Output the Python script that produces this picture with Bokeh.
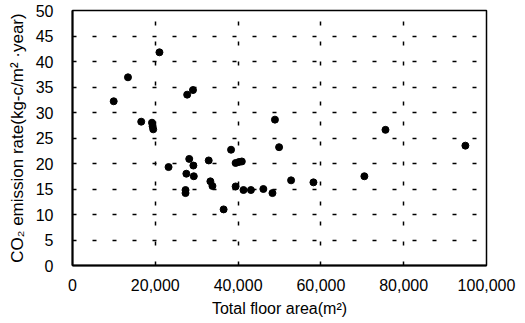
from bokeh.plotting import figure
from bokeh.models import NumeralTickFormatter, Range1d, FixedTicker, ColumnDataSource
from bokeh.embed import file_html
from bokeh.resources import INLINE

floor_area = [9950, 13400, 16600, 19200, 19350, 19500, 21000, 23200, 27700, 29100,
              28200, 29200, 27500, 29300, 27300, 27300, 32900, 33300, 33800, 36500,
              38300, 39400, 40200, 40900, 39400, 41300, 43100, 46100, 48300, 48900,
              49900, 52800, 58200, 70500, 75600, 94900]
emission = [32.2, 36.9, 28.2, 28.0, 27.3, 26.7, 41.8, 19.3, 33.5, 34.4,
            20.9, 19.6, 18.0, 17.5, 14.8, 14.2, 20.6, 16.5, 15.6, 11.0,
            22.7, 20.1, 20.3, 20.4, 15.5, 14.8, 14.8, 15.0, 14.2, 28.6,
            23.2, 16.7, 16.3, 17.5, 26.6, 23.5]

x_ticks = [0, 20000, 40000, 60000, 80000, 100000]
y_ticks = [0, 5, 10, 15, 20, 25, 30, 35, 40, 45, 50]

FONT = "Liberation Sans"

p = figure(width=525, height=323, output_backend="svg", toolbar_location=None,
           x_range=Range1d(0, 100000), y_range=Range1d(0, 50),
           min_border_left=72, min_border_right=39, min_border_top=10, min_border_bottom=58)

src = ColumnDataSource(dict(x=floor_area, y=emission))
p.scatter("x", "y", source=src, size=7, color="black")

p.xaxis.ticker = FixedTicker(ticks=x_ticks)
p.yaxis.ticker = FixedTicker(ticks=y_ticks)
p.xaxis.formatter = NumeralTickFormatter(format="0,0")

for ax in (p.xaxis, p.yaxis):
    ax.major_tick_out = 0
    ax.major_tick_in = 0
    ax.minor_tick_out = 0
    ax.minor_tick_in = 0
    ax.axis_line_color = "black"
    ax.axis_line_width = 2
    ax.major_label_text_font = FONT
    ax.major_label_text_font_size = "16px"
    ax.major_label_text_color = "black"
    ax.axis_label_text_font = FONT
    ax.axis_label_text_font_style = "normal"
    ax.axis_label_text_color = "black"

p.xaxis.axis_label = "Total floor area(m²)"
p.yaxis.axis_label = "CO₂ emission rate(kg-c/m² ·year)"
p.xaxis.axis_label_text_font_size = "16px"
p.yaxis.axis_label_text_font_size = "17px"
p.xaxis.major_label_standoff = 13
p.yaxis.major_label_standoff = 19
p.xaxis.axis_label_standoff = 6
p.yaxis.axis_label_standoff = 6

for g in (p.xgrid, p.ygrid):
    g.grid_line_color = "black"
    g.grid_line_width = 1.5
    g.grid_line_dash = "4 16"

p.outline_line_color = "black"
p.outline_line_width = 1.5
p.background_fill_color = "white"
p.border_fill_color = "white"

open("out.html", "w").write(file_html(p, INLINE))
